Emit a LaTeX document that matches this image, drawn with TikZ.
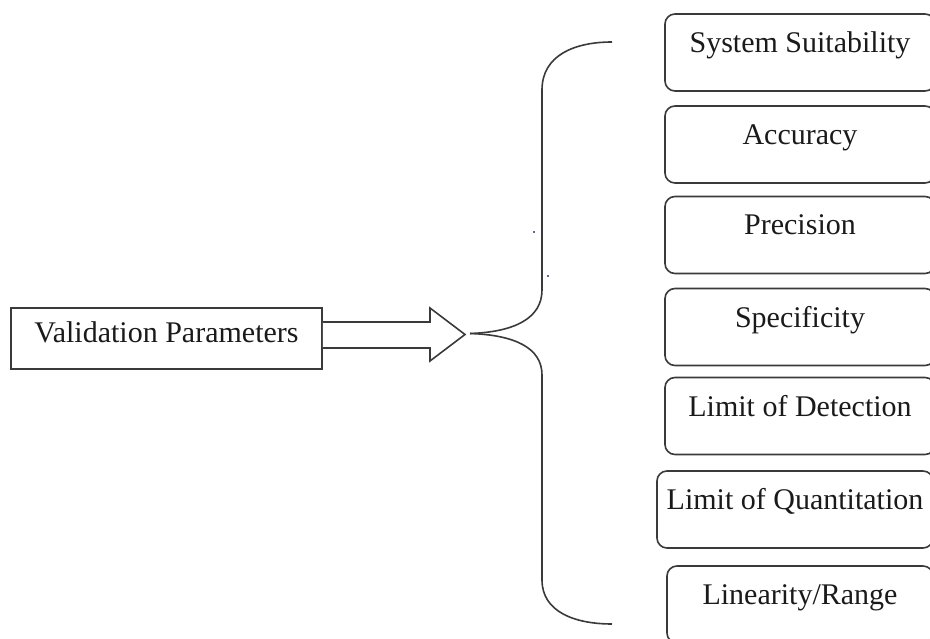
\documentclass[tikz,border=0pt]{standalone}
\usepackage{fontspec}
\setmainfont{Liberation Serif}
\usetikzlibrary{calc}
\definecolor{linec}{HTML}{3A3A3A}
\definecolor{txt}{HTML}{1A1A1A}
\definecolor{dotc}{HTML}{30307A}
\begin{document}
\begin{tikzpicture}[x=1pt,y=-1pt,
  line/.style={draw=linec, line width=1.6pt},
  parambox/.style={line, rounded corners=10pt, minimum height=77pt, inner sep=0pt,
    text height=20pt, text depth=20pt, font=\fontsize{30}{36}\selectfont, text=txt},
  mainbox/.style={line, minimum width=311pt, minimum height=61pt, inner sep=0pt,
    text height=23pt, text depth=16pt, font=\fontsize{30}{36}\selectfont, text=txt},
  blockarrow/.style={line, line join=miter, fill=white}
 ]
\useasboundingbox (0,0) rectangle (930,639);
\clip (0,0) rectangle (930,639);

% main box
\node[mainbox] (vp) at (166.5,338.5) {Validation Parameters};

% block arrow
\draw[blockarrow] ($(vp.east)+(0,-16.5)$) -- (430,322) -- (430,308) -- (465,334.5)
  -- (430,361) -- (430,348) -- ($(vp.east)+(0,9.5)$);

% brace
\coordinate (tip) at (470,333.5);
\draw[line] (612,42) .. controls (575,42) and (542,55) .. (542,90)
  -- (542,290) .. controls (542,318) and (515,332) .. (tip);
\draw[line] (tip) .. controls (515,335) and (542,348) .. (542,375)
  -- (542,580) .. controls (542,612) and (575,624) .. (612,624);

% tiny dots
\fill[dotc] (534,232) circle (1.1pt);
\fill[dotc] (548,276) circle (1.1pt);

% parameter boxes
\node[parambox, minimum width=270pt] (p1) at (800,52.5) {System Suitability};
\node[parambox, minimum width=270pt] (p2) at (800,144.5) {Accuracy};
\node[parambox, minimum width=270pt] (p3) at (800,235) {Precision};
\node[parambox, minimum width=270pt] (p4) at (800,327) {Specificity};
\node[parambox, minimum width=270pt] (p5) at (800,416) {Limit of Detection};
\node[parambox, minimum width=276pt] (p6) at (795,509.5) {Limit of Quantitation};
\node[parambox, minimum width=266pt] (p7) at (800,604.5) {Linearity/Range};
\end{tikzpicture}
\end{document}
